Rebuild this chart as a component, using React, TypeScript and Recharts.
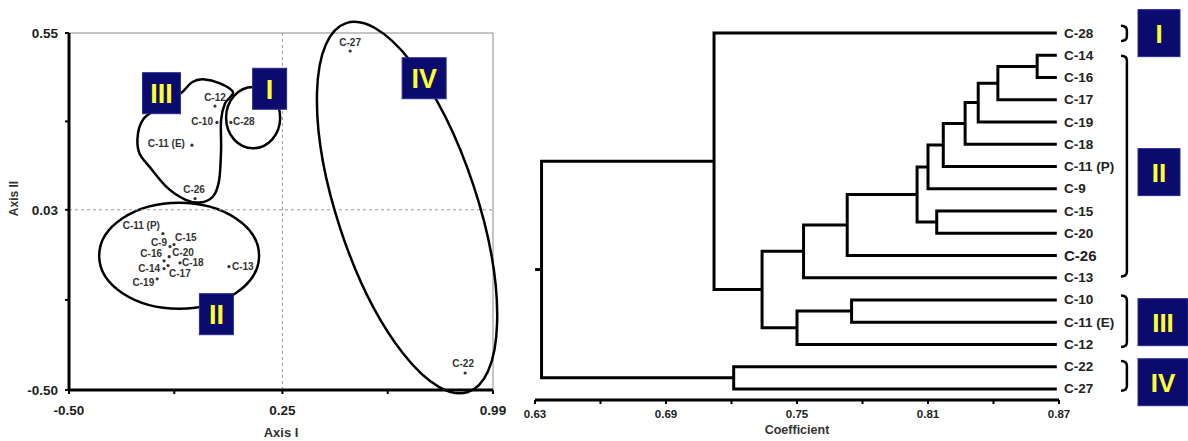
import React from "react";
import {
  ScatterChart,
  Scatter,
  XAxis,
  YAxis,
  ReferenceLine,
  ReferenceArea,
  ReferenceDot,
  Label,
} from "recharts";

const FONT = "Arial, 'Liberation Sans', Helvetica, sans-serif";
const NAVY = "#0b0b6e";
const YELLOW = "#ffff2e";
const INK = "#222";

// ---------- PCA plot (left) ----------
const accessions = ["C-27", "C-22", "C-12", "C-10", "C-28", "C-11 (E)", "C-26", "C-11 (P)", "C-9", "C-15", "C-16", "C-20", "C-18", "C-14", "C-17", "C-19", "C-13"];
const axisI = [0.488, 0.892, 0.013, 0.02, 0.069, -0.068, -0.057, -0.17, -0.145, -0.131, -0.166, -0.148, -0.11, -0.166, -0.152, -0.19, 0.062];
const axisII = [0.497, -0.45, 0.335, 0.287, 0.287, 0.22, 0.063, -0.04, -0.078, -0.072, -0.12, -0.108, -0.126, -0.143, -0.134, -0.173, -0.137];

const axisITicks = [-0.5, -0.13, 0.25, 0.62, 0.99];
const axisITickLabels = ["-0.50", "", "0.25", "", "0.99"];
const axisIITicks = [-0.5, -0.235, 0.03, 0.29, 0.55];
const axisIITickLabels = ["-0.50", "", "0.03", "", "0.55"];

const pcaPoints = accessions.map((name, i) => ({ name, x: axisI[i], y: axisII[i] }));

// where each point's name sits relative to its dot: dx, dy, anchor
const labelPlacement: Record<string, [number, number, string]> = {
  "C-27": [0, -9, "middle"],
  "C-22": [-2, -10, "middle"],
  "C-12": [0, -9, "middle"],
  "C-10": [-4, -1, "end"],
  "C-28": [2, -1, "start"],
  "C-11 (E)": [-7, -2, "end"],
  "C-26": [-1, -9, "middle"],
  "C-11 (P)": [-3, -8, "end"],
  "C-9": [-3, -4, "end"],
  "C-15": [1, -7, "start"],
  "C-16": [-2, -7, "end"],
  "C-20": [3, -4, "start"],
  "C-18": [2, 0, "start"],
  "C-14": [-4, 0, "end"],
  "C-17": [1, 8, "start"],
  "C-19": [-3, 4, "end"],
  "C-13": [3, 0, "start"],
};

const pcaTags = ["I", "II", "III", "IV"];
const pcaTagX = [0.205, 0.018, -0.175, 0.748];
const pcaTagY = [0.386, -0.277, 0.373, 0.417];
const pcaTagWidth = [34, 34, 38, 44];

// group III outline, as fractions of its bounding box
const groupIIIOutline = [
  [0.684, 0], [0.863, 0.033], [1.0, 0.106], [0.916, 0.195], [0.874, 0.333], [0.874, 0.577],
  [0.853, 0.821], [0.789, 0.951], [0.653, 1.0], [0.495, 0.976], [0.305, 0.878], [0.126, 0.715],
  [0.011, 0.593], [0, 0.439], [0.063, 0.317], [0.179, 0.252], [0.337, 0.171], [0.463, 0.106], [0.568, 0.024],
];

// ---------- dendrogram (right) ----------
const leaves = ["C-28", "C-14", "C-16", "C-17", "C-19", "C-18", "C-11 (P)", "C-9", "C-15", "C-20", "C-26", "C-13", "C-10", "C-11 (E)", "C-12", "C-22", "C-27"];
const leafCoefficient = 0.869;
const mergeLeft = ["C-14", "m0", "m1", "m2", "m3", "m4", "C-15", "m5", "m7", "m8", "C-10", "m10", "m9", "C-28", "C-22", "m13"];
const mergeRight = ["C-16", "C-17", "C-19", "C-18", "C-11 (P)", "C-9", "C-20", "m6", "C-26", "C-13", "C-11 (E)", "C-12", "m11", "m12", "C-27", "m14"];
const mergeCoefficient = [0.86, 0.842, 0.833, 0.827, 0.817, 0.81, 0.814, 0.805, 0.773, 0.753, 0.775, 0.75, 0.734, 0.712, 0.721, 0.633];
const rootStubEnd = 0.63;

const coefTicks = [0.63, 0.66, 0.69, 0.72, 0.75, 0.78, 0.81, 0.84, 0.87];
const coefTickLabels = ["0.63", "", "0.69", "", "0.75", "", "0.81", "", "0.87"];

const clusterTags = ["I", "II", "III", "IV"];
const clusterTop = [-0.33, 1.02, 11.8, 14.75];
const clusterBottom = [0.35, 10.95, 14.12, 16.08];
const clusterTagY = [0, 6.25, 13, 15.7];
const clusterTagWidth = [42, 42, 50, 50];

const nodeX: Record<string, number> = {};
const nodeY: Record<string, number> = {};
leaves.forEach((n, i) => {
  nodeX[n] = leafCoefficient;
  nodeY[n] = i;
});
const links = mergeCoefficient.map((h, k) => {
  const l = mergeLeft[k];
  const r = mergeRight[k];
  nodeX[`m${k}`] = h;
  nodeY[`m${k}`] = (nodeY[l] + nodeY[r]) / 2;
  return [
    { x: nodeX[l], y: nodeY[l] },
    { x: h, y: nodeY[l] },
    { x: h, y: nodeY[r] },
    { x: nodeX[r], y: nodeY[r] },
  ];
});
const rootId = `m${mergeCoefficient.length - 1}`;
const rootStub = [
  { x: nodeX[rootId], y: nodeY[rootId] },
  { x: rootStubEnd, y: nodeY[rootId] },
];

// ---------- shapes ----------
const PcaDot = (props: any) => {
  const { cx, cy, payload } = props;
  const [dx, dy, anchor] = labelPlacement[payload.name] || [3, 0, "start"];
  return (
    <g>
      <circle cx={cx} cy={cy} r={1.6} fill="#333" />
      <text x={cx + dx} y={cy + dy} textAnchor={anchor as any} dominantBaseline="central" fontSize={10} fontWeight="bold" fill="#333" fontFamily={FONT}>
        {payload.name}
      </text>
    </g>
  );
};

const BoxEllipse = (props: any) => {
  const { x, y, width, height } = props;
  return <ellipse cx={x + width / 2} cy={y + height / 2} rx={Math.abs(width) / 2} ry={Math.abs(height) / 2} fill="none" stroke="#000" strokeWidth={2.5} />;
};

const SegmentEllipse = (minor: number) => (props: any) => {
  const { x1, y1, x2, y2 } = props;
  const cx = (x1 + x2) / 2;
  const cy = (y1 + y2) / 2;
  const rx = Math.hypot(x2 - x1, y2 - y1) / 2;
  const angle = (Math.atan2(y2 - y1, x2 - x1) * 180) / Math.PI;
  return <ellipse cx={cx} cy={cy} rx={rx} ry={minor} transform={`rotate(${angle} ${cx} ${cy})`} fill="none" stroke="#000" strokeWidth={2.5} />;
};

const closedCurve = (pts: number[][]) => {
  const n = pts.length;
  let d = `M${pts[0][0]},${pts[0][1]}`;
  for (let i = 0; i < n; i++) {
    const p0 = pts[(i - 1 + n) % n];
    const p1 = pts[i];
    const p2 = pts[(i + 1) % n];
    const p3 = pts[(i + 2) % n];
    const c1 = [p1[0] + (p2[0] - p0[0]) / 6, p1[1] + (p2[1] - p0[1]) / 6];
    const c2 = [p2[0] - (p3[0] - p1[0]) / 6, p2[1] - (p3[1] - p1[1]) / 6];
    d += ` C${c1[0]},${c1[1]} ${c2[0]},${c2[1]} ${p2[0]},${p2[1]}`;
  }
  return d + " Z";
};

const BlobShape = (props: any) => {
  const { x, y, width, height } = props;
  const pts = groupIIIOutline.map(([u, v]) => [x + u * width, y + v * height]);
  return <path d={closedCurve(pts)} fill="none" stroke="#000" strokeWidth={2.5} />;
};

const TagShape = (text: string, w: number, h: number, fs: number) => (props: any) => {
  const { cx, cy } = props;
  return (
    <g>
      <rect x={cx - w / 2} y={cy - h / 2} width={w} height={h} fill={NAVY} stroke="#2b2b9c" strokeWidth={1} />
      <text x={cx} y={cy + 1} textAnchor="middle" dominantBaseline="central" fontSize={fs} fontWeight="bold" fill={YELLOW} fontFamily={FONT}>
        {text}
      </text>
    </g>
  );
};

const BracketShape = (props: any) => {
  const { x, y, width, height } = props;
  const r = Math.min(5, height / 3);
  const xr = x + width;
  const d = `M${x},${y} Q${xr},${y} ${xr},${y + r} L${xr},${y + height - r} Q${xr},${y + height} ${x},${y + height}`;
  return <path d={d} fill="none" stroke="#000" strokeWidth={2.5} />;
};

const NoMark = () => <g />;

const LeafTick = (props: any) => {
  const { x, y, payload } = props;
  const name = leaves[payload.value];
  return (
    <text x={x} y={y} textAnchor="start" dominantBaseline="central" fontSize={name === "C-26" ? 15 : 13.5} fontWeight="bold" fill={INK} fontFamily={FONT}>
      {name}
    </text>
  );
};

const AxisIITitle = (props: any) => {
  const vb = props.viewBox || { x: 0, y: 33, width: 69, height: 357 };
  const x = vb.x + 14;
  const y = vb.y + vb.height / 2 - 13;
  return (
    <text x={x} y={y} transform={`rotate(-90 ${x} ${y})`} textAnchor="middle" dominantBaseline="central" fontSize={12} fontWeight="bold" fill="#333" fontFamily={FONT}>
      Axis II
    </text>
  );
};

const tickStyle = { fontSize: 13.5, fontWeight: "bold", fill: INK, fontFamily: FONT };

const PcaChart = () => (
  <ScatterChart width={520} height={441} margin={{ top: 33, right: 27, bottom: 0, left: 0 }}>
    <XAxis
      type="number"
      dataKey="x"
      domain={[-0.5, 0.99]}
      ticks={axisITicks}
      interval={0}
      tickFormatter={(v: number) => axisITickLabels[axisITicks.indexOf(v)] ?? ""}
      height={51}
      axisLine={{ stroke: "#000", strokeWidth: 3 }}
      tickLine={{ stroke: "#000", strokeWidth: 2 }}
      tickSize={4}
      tickMargin={11}
      tick={tickStyle}
    >
      <Label value="Axis I" position="insideBottom" offset={4} fontSize={13} fontWeight="bold" fill="#333" fontFamily={FONT} />
    </XAxis>
    <YAxis
      type="number"
      dataKey="y"
      domain={[-0.5, 0.55]}
      ticks={axisIITicks}
      interval={0}
      tickFormatter={(v: number) => axisIITickLabels[axisIITicks.indexOf(v)] ?? ""}
      width={69}
      axisLine={{ stroke: "#000", strokeWidth: 3 }}
      tickLine={{ stroke: "#000", strokeWidth: 2 }}
      tickSize={4}
      tickMargin={7}
      tick={tickStyle}
    >
      <Label content={AxisIITitle} />
    </YAxis>

    <ReferenceLine x={0.25} stroke="#9a9a9a" strokeDasharray="3 3" strokeWidth={1} />
    <ReferenceLine y={0.03} stroke="#9a9a9a" strokeDasharray="3 3" strokeWidth={1} />
    <ReferenceLine y={0.55} stroke="#8a8a8a" strokeWidth={1} />
    <ReferenceLine x={0.99} stroke="#8a8a8a" strokeWidth={1} />

    {/* cluster enclosures */}
    <ReferenceArea x1={0.052} x2={0.242} y1={0.211} y2={0.391} ifOverflow="visible" shape={BoxEllipse} />
    <ReferenceArea x1={-0.394} x2={0.168} y1={-0.261} y2={0.051} ifOverflow="visible" shape={BoxEllipse} />
    <ReferenceArea x1={-0.2575} x2={0.0765} y1={0.0515} y2={0.414} ifOverflow="visible" shape={BlobShape} />
    <ReferenceLine
      segment={[
        { x: 0.474, y: 0.579 },
        { x: 0.902, y: -0.506 },
      ]}
      ifOverflow="visible"
      shape={SegmentEllipse(70)}
    />

    <Scatter data={pcaPoints} fill="#333" shape={PcaDot} isAnimationActive={false} />

    {pcaTags.map((t, i) => (
      <ReferenceDot key={t} x={pcaTagX[i]} y={pcaTagY[i]} ifOverflow="visible" shape={TagShape(t, pcaTagWidth[i], 41, 27)} />
    ))}
  </ScatterChart>
);

const Dendrogram = () => (
  <ScatterChart width={688} height={441} margin={{ top: 22, right: 69, bottom: 0, left: 35 }}>
    <XAxis
      type="number"
      dataKey="x"
      domain={[0.63, 0.87]}
      ticks={coefTicks}
      interval={0}
      tickFormatter={(v: number) => coefTickLabels[coefTicks.indexOf(v)] ?? ""}
      height={41}
      axisLine={{ stroke: "#000", strokeWidth: 3 }}
      tickLine={{ stroke: "#000", strokeWidth: 2 }}
      tickSize={4}
      tickMargin={6}
      tick={{ fontSize: 11.5, fontWeight: "bold", fill: INK, fontFamily: FONT }}
    >
      <Label value="Coefficient" position="insideBottom" offset={7} fontSize={12.5} fontWeight="bold" fill="#333" fontFamily={FONT} />
    </XAxis>
    <YAxis
      type="number"
      dataKey="y"
      orientation="right"
      reversed
      domain={[-0.5, 16.5]}
      ticks={leaves.map((_, i) => i)}
      interval={0}
      width={60}
      axisLine={false}
      tickLine={false}
      tickSize={0}
      tickMargin={5}
      tick={LeafTick}
    />

    {links.map((pts, k) => (
      <Scatter
        key={k}
        data={pts}
        fill="#000"
        line={{ stroke: "#000", strokeWidth: 3 }}
        shape={NoMark}
        isAnimationActive={false}
      />
    ))}
    <Scatter data={rootStub} fill="#000" line={{ stroke: "#000", strokeWidth: 3 }} shape={NoMark} isAnimationActive={false} />

    {clusterTags.map((t, i) => (
      <ReferenceArea key={`b${t}`} x1={0.8984} x2={0.9011} y1={clusterTop[i]} y2={clusterBottom[i]} ifOverflow="visible" shape={BracketShape} />
    ))}
    {clusterTags.map((t, i) => (
      <ReferenceDot
        key={`t${t}`}
        x={0.63 + ((1138 + clusterTagWidth[i] / 2 - 535) / 524) * 0.24}
        y={clusterTagY[i]}
        ifOverflow="visible"
        shape={TagShape(t, clusterTagWidth[i], 47, 26)}
      />
    ))}
  </ScatterChart>
);

export default function App() {
  return (
    <div style={{ position: "absolute", left: 0, top: 0, width: 1188, height: 441, background: "#fff", fontFamily: FONT, overflow: "hidden" }}>
      <div style={{ position: "absolute", left: 0, top: 0 }}>
        <PcaChart />
      </div>
      <div style={{ position: "absolute", left: 500, top: 0 }}>
        <Dendrogram />
      </div>
    </div>
  );
}
